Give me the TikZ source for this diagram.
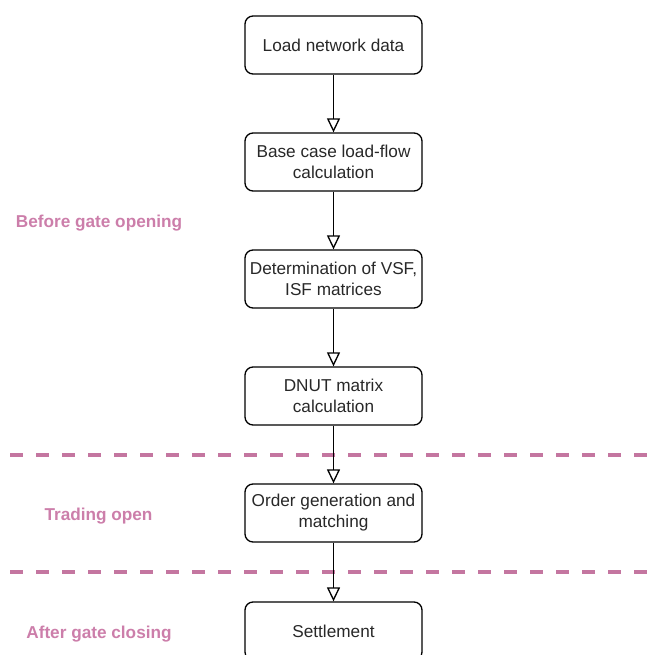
\documentclass[tikz,border=0pt]{standalone}
\usepackage{fontspec}
\setmainfont{Liberation Sans}
\usetikzlibrary{arrows.meta}
\definecolor{phase}{RGB}{196,118,160}
\definecolor{phasetext}{RGB}{204,126,170}
\definecolor{boxtext}{RGB}{40,40,40}
\tikzset{
  stepbox/.style={draw=black, line width=1.3bp, rounded corners=8bp,
    minimum width=177bp, minimum height=58bp, align=center,
    text=boxtext, font=\fontsize{17.2bp}{21bp}\selectfont, inner sep=0pt},
  flow/.style={line width=1.3bp, -{Triangle[open, length=14bp, width=13bp]}},
  phaseline/.style={draw=phase, line width=3.5bp, dash pattern=on 13bp off 13bp},
  phaselabel/.style={text=phasetext, font=\fontsize{17.2bp}{21bp}\selectfont\bfseries}
}
\begin{document}
\begin{tikzpicture}[x=1bp, y=-1bp]
  \useasboundingbox (0,0) rectangle (647,655);
  \clip (0,0) rectangle (647,655);

  % phase separators
  \coordinate (s1l) at (10,455);
  \coordinate (s1r) at (647,455);
  \coordinate (s2l) at (10,572);
  \coordinate (s2r) at (647,572);
  \draw[phaseline] (s1l) -- (s1r);
  \draw[phaseline] (s2l) -- (s2r);

  % process steps
  \node[stepbox] (b1) at (333.5,45)  {Load network data};
  \node[stepbox] (b2) at (333.5,162) {Base case load-flow\\calculation};
  \node[stepbox] (b3) at (333.5,279) {Determination of VSF,\\ISF matrices};
  \node[stepbox] (b4) at (333.5,396) {DNUT matrix\\calculation};
  \node[stepbox] (b5) at (333.5,513) {Order generation and\\matching};
  \node[stepbox] (b6) at (333.5,631) {Settlement};

  % flow connectors
  \draw[flow] (b1.south) -- (b2.north);
  \draw[flow] (b2.south) -- (b3.north);
  \draw[flow] (b3.south) -- (b4.north);
  \draw[flow] (b4.south) -- (b5.north);
  \draw[flow] (b5.south) -- (b6.north);

  % phase labels
  \node[phaselabel] (p1) at (99,223.5) {Before gate opening};
  \node[phaselabel] (p2) at (98.5,516.5) {Trading open};
  \node[phaselabel] (p3) at (99,634) {After gate closing};
\end{tikzpicture}
\end{document}
